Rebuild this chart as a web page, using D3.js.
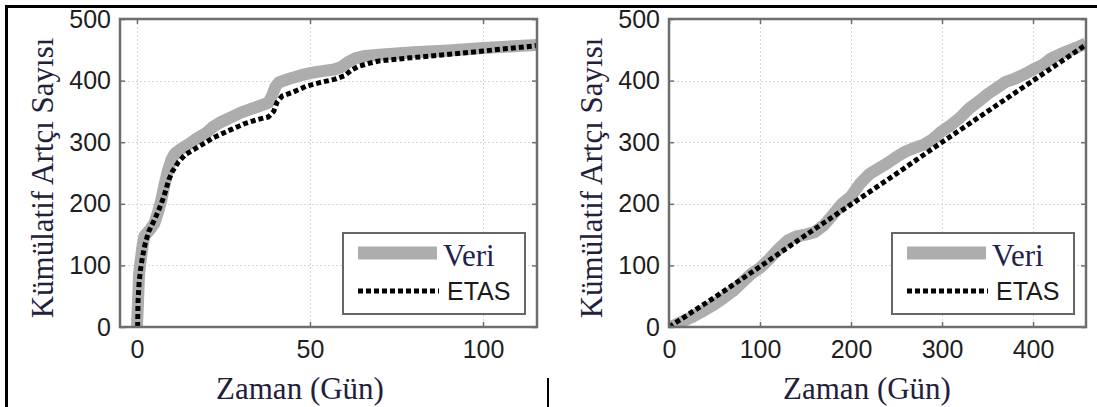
<!DOCTYPE html>
<html>
<head>
<meta charset="utf-8">
<script src="https://cdn.jsdelivr.net/npm/d3@7"></script>
<style>
  body { margin: 0; background: #fff; }
  svg { display: block; }
</style>
</head>
<body>
<svg id="fig" width="1097" height="407"></svg>
<script>
// left panel: first ~116 days
const leftVeri = [
  [0, 0], [0.3, 40], [0.6, 85], [1, 105], [1.3, 118], [1.7, 135], [2.2, 148], [3, 153],
  [4, 160], [5, 168], [6, 185], [7, 205], [8, 232], [9, 255], [10, 272], [11, 282],
  [13, 290], [15, 297], [17, 305], [20, 315], [22, 325], [24, 332], [27, 340], [30, 348],
  [33, 354], [36, 360], [38, 364], [39, 375], [40, 390], [41, 397], [44, 403], [47, 408],
  [50, 412], [53, 415], [57, 418], [59, 422], [61, 430], [63, 436], [66, 440], [70, 442],
  [75, 444], [80, 446], [90, 449], [100, 453], [110, 456], [116, 458]
];
const leftEtas = [
  [0.2, 0], [0.3, 40], [0.6, 70], [1, 92], [1.6, 114], [2.4, 136], [3.4, 155], [4.8, 171],
  [6.3, 190], [7.8, 212], [9.2, 239], [10.2, 252], [12, 268], [14, 280], [17, 290], [20, 300],
  [22, 307], [27, 320], [31, 330], [35, 337], [38, 341], [39.5, 350], [40.5, 365], [42, 375],
  [45, 381], [49, 391], [53, 397], [57, 402], [60, 408], [62, 417], [64, 423], [67, 428],
  [70, 432], [79, 437], [89, 442], [100, 448], [107, 452], [116, 457]
];

// right panel: whole period
const rightVeri = [
  [0, 0], [5, 2], [12, 7], [25, 16], [35, 24], [50, 37], [60, 47], [70, 58], [80, 72],
  [90, 86], [100, 96], [110, 110], [120, 126], [130, 140], [140, 147], [150, 150], [160, 154],
  [170, 165], [180, 182], [190, 200], [200, 212], [210, 233], [220, 248], [230, 257], [240, 266],
  [250, 276], [260, 285], [270, 291], [280, 296], [290, 305], [300, 318], [310, 328], [320, 340],
  [330, 355], [340, 366], [350, 378], [360, 388], [370, 398], [380, 403], [390, 410], [400, 418],
  [410, 425], [420, 436], [430, 443], [440, 449], [450, 455], [458, 460]
];
const rightEtas = [
  [0, 0], [50, 48], [100, 98], [150, 149], [200, 199], [250, 249], [300, 300],
  [350, 350], [400, 400], [458, 458]
];

const yTicks = [0, 100, 200, 300, 400, 500];
const leftXTicks = [0, 50, 100];
const rightXTicks = [0, 100, 200, 300, 400];
const legendNames = ["Veri", "ETAS"];

const SERIF = "'Liberation Serif', 'Times New Roman', serif";
const SANS = "'Liberation Sans', Arial, sans-serif";
const svg = d3.select("#fig");

// table cell borders around the figure
svg.append("line").attr("x1", 5).attr("x2", 1097).attr("y1", 6.5).attr("y2", 6.5)
  .attr("stroke", "#000").attr("stroke-width", 3);
svg.append("line").attr("x1", 6.5).attr("x2", 6.5).attr("y1", 5).attr("y2", 407)
  .attr("stroke", "#000").attr("stroke-width", 3);
svg.append("line").attr("x1", 548).attr("x2", 548).attr("y1", 378).attr("y2", 407)
  .attr("stroke", "#000").attr("stroke-width", 2);

function panel(opts) {
  const { id, left, right, top, bottom, xDomain, xTicks, veri, etas, xLabelX } = opts;
  const x = d3.scaleLinear().domain(xDomain).range([left, right]);
  const y = d3.scaleLinear().domain([0, 500]).range([bottom, top]);
  const g = svg.append("g");

  g.append("clipPath").attr("id", "clip-" + id)
    .append("rect").attr("x", left).attr("y", top)
    .attr("width", right - left).attr("height", bottom - top);

  // dotted grid
  const grid = g.append("g").attr("stroke", "#d6d6d6").attr("stroke-width", 1)
    .attr("stroke-dasharray", "2,2");
  grid.selectAll(".gx").data(xTicks).join("line")
    .attr("x1", d => Math.round(x(d)) + 0.5).attr("x2", d => Math.round(x(d)) + 0.5)
    .attr("y1", top).attr("y2", bottom);
  grid.selectAll(".gy").data(yTicks).join("line")
    .attr("x1", left).attr("x2", right)
    .attr("y1", d => Math.round(y(d)) + 0.5).attr("y2", d => Math.round(y(d)) + 0.5);

  // axes with inward ticks on all sides
  const axisColor = "#6e6e6e";
  const styleAxis = sel => {
    sel.select(".domain").remove();
    sel.selectAll(".tick line").attr("stroke", axisColor).attr("stroke-width", 1.5);
    sel.selectAll(".tick text").attr("fill", "#1e1e1e")
      .style("font-family", SANS).style("font-size", "25px");
  };
  g.append("g").attr("transform", `translate(0,${bottom})`)
    .call(d3.axisBottom(x).tickValues(xTicks).tickFormat(d3.format("d"))
      .tickSizeInner(-5).tickSizeOuter(0).tickPadding(13))
    .call(styleAxis);
  g.append("g").attr("transform", `translate(0,${top})`)
    .call(d3.axisTop(x).tickValues(xTicks).tickFormat("")
      .tickSizeInner(-5).tickSizeOuter(0))
    .call(styleAxis);
  g.append("g").attr("transform", `translate(${left},0)`)
    .call(d3.axisLeft(y).tickValues(yTicks).tickFormat(d3.format("d"))
      .tickSizeInner(-5).tickSizeOuter(0).tickPadding(9))
    .call(styleAxis);
  g.append("g").attr("transform", `translate(${right},0)`)
    .call(d3.axisRight(y).tickValues(yTicks).tickFormat("")
      .tickSizeInner(-5).tickSizeOuter(0))
    .call(styleAxis);

  // series
  const line = d3.line().x(d => x(d[0])).y(d => y(d[1]));
  const lines = g.append("g").attr("clip-path", `url(#clip-${id})`);
  lines.append("path").datum(veri).attr("d", line)
    .attr("fill", "none").attr("stroke", "#adadad").attr("stroke-width", 12)
    .attr("stroke-linejoin", "round");
  lines.append("path").datum(etas).attr("d", line)
    .attr("fill", "none").attr("stroke", "#000").attr("stroke-width", 5)
    .attr("stroke-dasharray", "5,3");

  // box
  g.append("rect").attr("x", left).attr("y", top)
    .attr("width", right - left).attr("height", bottom - top)
    .attr("fill", "none").attr("stroke", axisColor).attr("stroke-width", 2.5);

  // legend
  const lg = g.append("g").attr("transform", `translate(${right - 194},${top + 214})`);
  lg.append("rect").attr("x", 0).attr("y", 0).attr("width", 182).attr("height", 81)
    .attr("fill", "#fff").attr("stroke", "#666").attr("stroke-width", 2);
  lg.append("line").attr("x1", 15).attr("x2", 94).attr("y1", 20).attr("y2", 20)
    .attr("stroke", "#adadad").attr("stroke-width", 13);
  lg.append("line").attr("x1", 15).attr("x2", 96).attr("y1", 58).attr("y2", 58)
    .attr("stroke", "#000").attr("stroke-width", 5).attr("stroke-dasharray", "5,3");
  lg.append("text").attr("x", 100).attr("y", 33).text(legendNames[0])
    .attr("fill", "#1e2250").style("font-family", SERIF).style("font-size", "31px");
  lg.append("text").attr("x", 104).attr("y", 67).text(legendNames[1])
    .attr("fill", "#1a1a1a").style("font-family", SANS).style("font-size", "25px");

  // axis labels
  g.append("text").attr("x", xLabelX).attr("y", 399).attr("text-anchor", "middle")
    .text("Zaman (Gün)").attr("fill", "#22203a")
    .style("font-family", SERIF).style("font-size", "31px");
  g.append("text").attr("transform", `translate(${left - 67},178) rotate(-90)`)
    .attr("text-anchor", "middle").text("Kümülatif Artçı Sayısı").attr("fill", "#22203a")
    .style("font-family", SERIF).style("font-size", "31px");
}

panel({ id: "a", left: 120, right: 537, top: 19, bottom: 327, xDomain: [-4.9, 115.6],
  xTicks: leftXTicks, veri: leftVeri, etas: leftEtas, xLabelX: 300 });
panel({ id: "b", left: 669, right: 1086, top: 19, bottom: 327, xDomain: [0, 458.2],
  xTicks: rightXTicks, veri: rightVeri, etas: rightEtas, xLabelX: 867 });
</script>
</body>
</html>
